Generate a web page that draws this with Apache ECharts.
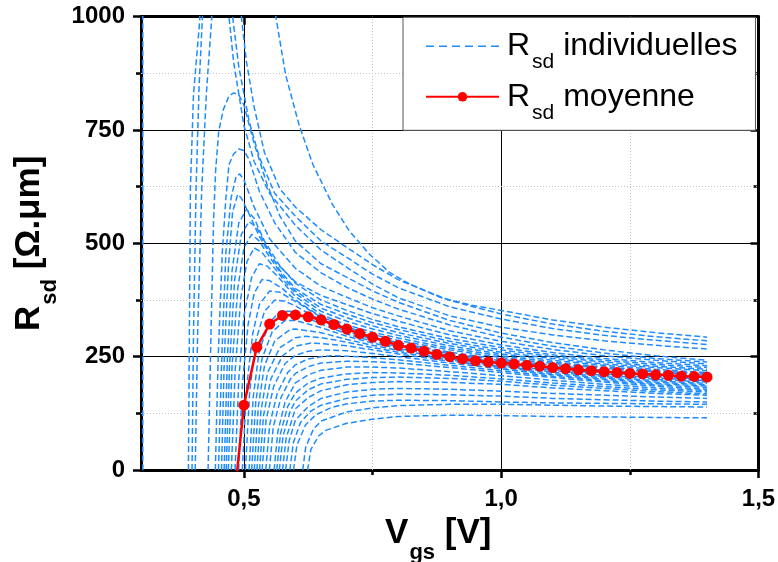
<!DOCTYPE html>
<html><head><meta charset="utf-8">
<script src="https://cdn.jsdelivr.net/npm/echarts@6/dist/echarts.min.js"></script>
<style>html,body{margin:0;padding:0;background:#fff}#c{width:778px;height:562px}</style>
</head><body><div id="c"></div>
<script>
// ---------- axis / tick definitions ----------
const xRange = [0.3, 1.5];
const yRange = [0, 1000];
const xTickLabels = [0.5, 1.0, 1.5];
const xMinorTicks = [0.75, 1.25];
const yTickLabels = [0, 250, 500, 750, 1000];
const yMinorTicks = [125, 375, 625, 875];
const xMajorGrid = [0.5, 1.0];
const xMinorGrid = [0.75, 1.25];
const yMajorGrid = [250, 500, 750];
const yMinorGrid = [125, 375, 625, 875];

// ---------- mean curve (red) ----------
const vgsMean = [0.475, 0.5, 0.525, 0.55, 0.575, 0.6, 0.625, 0.65, 0.675, 0.7, 0.725, 0.75, 0.775, 0.8, 0.825, 0.85, 0.875, 0.9, 0.925, 0.95, 0.975, 1.0, 1.025, 1.05, 1.075, 1.1, 1.125, 1.15, 1.175, 1.2, 1.225, 1.25, 1.275, 1.3, 1.325, 1.35, 1.375, 1.4];
const rsdMean = [-132, 143, 271, 322, 341, 342, 338, 331, 321, 311, 301, 293, 284, 275, 269, 262, 255, 250, 245, 241, 238, 236, 234, 231, 229, 226, 223.5, 221, 219, 217, 215, 213, 212, 210, 209, 207, 206.5, 205];

// ---------- individual curves (blue), [Vgs, Rsd] ----------
const c01 = [[0.3035,-100],[0.3035,1100],[0.36,2500],[0.45,1400],[0.471,1000],[0.48,900],[0.50,760],[0.52,680],[0.55,610],[0.6,540],[0.65,485],[0.7,447],[0.75,410],[0.8,380],[0.9,340],[1.0,315],[1.1,298],[1.2,285],[1.3,275],[1.4,267]];
const c02 = [[0.392,-20],[0.394,300],[0.396,620],[0.402,828],[0.414,990],[0.43,1500],[0.46,1300],[0.478,1000],[0.49,890],[0.51,770],[0.53,690],[0.56,610],[0.6,560],[0.65,505],[0.7,469],[0.75,432],[0.8,402],[0.9,360],[1.0,333],[1.1,312],[1.2,297],[1.3,286],[1.4,277]];
const c03 = [[0.399,-20],[0.402,300],[0.407,620],[0.413,850],[0.419,990],[0.44,1500],[0.48,1300],[0.495,1000],[0.505,900],[0.52,800],[0.54,700],[0.57,620],[0.6,580],[0.65,530],[0.7,491],[0.75,453],[0.8,420],[0.9,374],[1.0,344],[1.1,322],[1.2,306],[1.3,294],[1.4,285]];
const c04 = [[0.405,-20],[0.410,300],[0.418,620],[0.427,830],[0.437,990],[0.46,1500],[0.53,1400],[0.562,1000],[0.581,872],[0.607,762],[0.634,674],[0.672,586],[0.705,527],[0.744,476],[0.783,436],[0.822,410],[0.881,381],[0.94,364],[1.0,352],[1.1,331],[1.2,315],[1.3,303],[1.4,293]];
const c05 = [[0.430,-20],[0.436,300],[0.441,550],[0.445,660],[0.451,747],[0.460,795],[0.471,825],[0.48,832],[0.49,828],[0.50,805],[0.52,720],[0.545,630],[0.57,560],[0.6,505],[0.65,455],[0.7,425],[0.75,395],[0.8,370],[0.9,330],[1.0,302],[1.1,281],[1.2,265],[1.3,252],[1.4,242]];
const c06 = [[0.444,-20],[0.450,250],[0.458,480],[0.465,600],[0.471,674],[0.48,697],[0.49,708],[0.50,705],[0.51,685],[0.53,615],[0.56,545],[0.6,480],[0.65,435],[0.7,403],[0.75,377],[0.8,355],[0.9,320],[1.0,293],[1.1,273],[1.2,258],[1.3,246],[1.4,238]];
const c07 = [[0.450,-20],[0.457,250],[0.465,480],[0.475,600],[0.485,648],[0.492,653],[0.50,640],[0.52,580],[0.55,510],[0.6,445],[0.65,405],[0.7,381],[0.75,358],[0.8,340],[0.9,307],[1.0,284],[1.1,266],[1.2,252],[1.3,242],[1.4,234]];
const c08 = [[0.456,-20],[0.462,250],[0.470,450],[0.478,570],[0.488,608],[0.495,600],[0.51,565],[0.53,515],[0.56,460],[0.6,415],[0.65,385],[0.7,365],[0.75,345],[0.8,328],[0.9,298],[1.0,276],[1.1,259],[1.2,246],[1.3,237],[1.4,230]];
const c09 = [[0.461,-20],[0.468,250],[0.477,440],[0.49,545],[0.505,575],[0.52,555],[0.54,505],[0.57,450],[0.6,412],[0.65,375],[0.7,352],[0.75,332],[0.8,316],[0.9,290],[1.0,270],[1.1,254],[1.2,242],[1.3,233],[1.4,226]];
const c10 = [[0.465,-20],[0.472,230],[0.482,420],[0.495,520],[0.51,548],[0.525,535],[0.545,490],[0.57,440],[0.6,400],[0.65,365],[0.7,344],[0.75,325],[0.8,310],[0.9,284],[1.0,265],[1.1,250],[1.2,238],[1.3,229],[1.4,222]];
const c11 = [[0.469,-20],[0.477,230],[0.488,400],[0.50,490],[0.515,520],[0.53,505],[0.55,470],[0.575,428],[0.6,395],[0.65,357],[0.7,336],[0.75,318],[0.8,303],[0.9,279],[1.0,260],[1.1,246],[1.2,234],[1.3,226],[1.4,219]];
const c12 = [[0.475,-20],[0.483,220],[0.494,380],[0.506,460],[0.52,490],[0.535,480],[0.555,452],[0.58,415],[0.6,390],[0.65,350],[0.7,328],[0.75,311],[0.8,297],[0.9,274],[1.0,256],[1.1,242],[1.2,231],[1.3,222],[1.4,215]];
const c13 = [[0.482,-20],[0.490,200],[0.50,340],[0.515,425],[0.53,455],[0.545,450],[0.565,428],[0.6,383],[0.65,343],[0.7,320],[0.75,304],[0.8,291],[0.9,269],[1.0,252],[1.1,238],[1.2,227],[1.3,219],[1.4,212]];
const c14 = [[0.489,-20],[0.497,190],[0.508,320],[0.52,390],[0.535,420],[0.55,418],[0.575,400],[0.6,375],[0.65,338],[0.7,315],[0.75,299],[0.8,286],[0.9,265],[1.0,248],[1.1,235],[1.2,224],[1.3,216],[1.4,209]];
const c15 = [[0.496,-20],[0.505,180],[0.517,300],[0.53,365],[0.55,395],[0.57,392],[0.6,372],[0.65,337],[0.7,311],[0.75,294],[0.8,281],[0.9,260],[1.0,244],[1.1,231],[1.2,220],[1.3,212],[1.4,206]];
const c16 = [[0.502,-20],[0.511,170],[0.523,285],[0.54,350],[0.56,375],[0.58,372],[0.6,362],[0.65,330],[0.7,305],[0.75,289],[0.8,277],[0.9,257],[1.0,241],[1.1,228],[1.2,218],[1.3,209],[1.4,203]];
const c17 = [[0.509,-20],[0.518,160],[0.53,265],[0.55,325],[0.57,350],[0.59,350],[0.6,347],[0.65,322],[0.7,300],[0.75,284],[0.8,272],[0.9,253],[1.0,238],[1.1,225],[1.2,215],[1.3,206],[1.4,200]];
const c18 = [[0.514,-20],[0.523,150],[0.535,245],[0.555,305],[0.58,330],[0.6,330],[0.65,314],[0.7,295],[0.75,280],[0.8,268],[0.9,250],[1.0,235],[1.1,222],[1.2,212],[1.3,203],[1.4,197]];
const c19 = [[0.519,-20],[0.528,140],[0.54,230],[0.56,285],[0.59,310],[0.6,311],[0.65,303],[0.7,288],[0.75,275],[0.8,264],[0.9,246],[1.0,232],[1.1,219],[1.2,209],[1.3,200],[1.4,194]];
const c20 = [[0.524,-20],[0.533,130],[0.546,215],[0.57,270],[0.6,292],[0.62,295],[0.65,292],[0.7,282],[0.75,270],[0.8,260],[0.9,243],[1.0,229],[1.1,216],[1.2,206],[1.3,197],[1.4,191]];
const c21 = [[0.529,-20],[0.538,120],[0.552,200],[0.575,252],[0.6,273],[0.63,280],[0.65,279],[0.7,274],[0.75,265],[0.8,256],[0.9,240],[1.0,226],[1.1,213],[1.2,203],[1.3,194],[1.4,188]];
const c22 = [[0.534,-20],[0.543,110],[0.558,185],[0.58,235],[0.6,253],[0.625,262],[0.65,265],[0.7,263],[0.75,257],[0.8,250],[0.9,236],[1.0,223],[1.1,210],[1.2,200],[1.3,191],[1.4,185]];
const c23 = [[0.541,-20],[0.55,100],[0.565,170],[0.585,215],[0.6,232],[0.625,245],[0.65,250],[0.67,252],[0.7,251],[0.75,248],[0.8,243],[0.9,231],[1.0,219],[1.1,207],[1.2,197],[1.3,188],[1.4,182]];
const c24 = [[0.548,-20],[0.557,95],[0.572,160],[0.59,200],[0.6,213],[0.625,228],[0.65,236],[0.7,240],[0.75,239],[0.8,236],[0.9,226],[1.0,215],[1.1,204],[1.2,194],[1.3,185],[1.4,178]];
const c25 = [[0.557,-20],[0.566,85],[0.58,150],[0.6,192],[0.625,210],[0.65,220],[0.7,227],[0.75,227],[0.8,225],[0.9,217],[1.0,208],[1.1,198],[1.2,189],[1.3,181],[1.4,175]];
const c26 = [[0.562,-20],[0.571,80],[0.585,140],[0.6,170],[0.625,192],[0.65,203],[0.7,212],[0.75,215],[0.8,214],[0.9,209],[1.0,201],[1.1,192],[1.2,184],[1.3,177],[1.4,172]];
const c27 = [[0.567,-20],[0.576,75],[0.59,130],[0.6,152],[0.625,177],[0.65,190],[0.7,200],[0.75,204],[0.8,205],[0.9,202],[1.0,196],[1.1,187],[1.2,180],[1.3,173],[1.4,168]];
const c28 = [[0.573,-20],[0.582,70],[0.6,135],[0.625,160],[0.65,175],[0.7,188],[0.75,193],[0.8,195],[0.9,193],[1.0,189],[1.1,181],[1.2,175],[1.3,169],[1.4,165]];
const c29 = [[0.579,-20],[0.588,65],[0.6,110],[0.625,140],[0.65,158],[0.7,172],[0.75,178],[0.8,180],[0.9,178],[1.0,174],[1.1,169],[1.2,165],[1.3,161],[1.4,158]];
const c30 = [[0.587,-20],[0.596,60],[0.61,105],[0.63,130],[0.65,143],[0.7,158],[0.75,165],[0.8,167],[0.9,166],[1.0,163],[1.1,158],[1.2,155],[1.3,152],[1.4,150]];
const c31 = [[0.594,-20],[0.603,55],[0.62,100],[0.64,122],[0.67,138],[0.7,146],[0.75,152],[0.8,154],[0.9,153],[1.0,150],[1.1,148],[1.2,147],[1.3,146],[1.4,145]];
const c32 = [[0.612,-20],[0.62,50],[0.635,90],[0.65,108],[0.7,128],[0.75,137],[0.8,142],[0.9,145],[1.0,145],[1.1,143],[1.2,141],[1.3,140],[1.4,139]];
const c33 = [[0.621,-20],[0.63,45],[0.645,75],[0.66,88],[0.7,103],[0.75,112],[0.8,118],[0.9,121],[1.0,120],[1.1,118],[1.2,117],[1.3,116],[1.4,115]];
const individualCurves = [c01,c02,c03,c04,c05,c06,c07,c08,c09,c10,c11,c12,c13,c14,c15,c16,c17,c18,c19,c20,c21,c22,c23,c24,c25,c26,c27,c28,c29,c30,c31,c32,c33];

// ---------- texts ----------
const nameInd = 'Rsd individuelles';
const nameMoy = 'Rsd moyenne';
const legendRich = {
  'Rsd individuelles': '{r|R}{s|sd}{m| individuelles}',
  'Rsd moyenne': '{r|R}{s|sd}{m| moyenne}'
};
const xTitle = '{m|V}{s|gs}{m| [V]}';
const yTitle = '{m|R}{s|sd}{m| [Ω.μm]}';

// ---------- styles ----------
const FONT = '"Liberation Sans", Arial, Helvetica, sans-serif';
const BLUE = '#1E8CFF';
const RED = '#FF0000';
const gridPos = {left: 141, right: 19.5, top: 16.7, bottom: 92, outerBoundsMode: 'none'};
const axisLine = {show: true, onZero: false, lineStyle: {color: '#000', width: 3}};
const tickStyle = {color: '#000', width: 2.5};
const titleRich = {
  m: {fontSize: 35, fontWeight: 'bold', fontFamily: FONT, color: '#000', lineHeight: 42},
  s: {fontSize: 22, fontWeight: 'bold', fontFamily: FONT, color: '#000', lineHeight: 42, height: 2, verticalAlign: 'bottom', padding: [0, 0, 0, 1]}
};

const chart = echarts.init(document.getElementById('c'), null, {renderer: 'canvas'});

const series = individualCurves.map(c => ({
  type: 'line', name: nameInd, data: c, xAxisIndex: 0, yAxisIndex: 0,
  symbol: 'none', showSymbol: false, clip: true, silent: true, z: 2,
  lineStyle: {color: BLUE, width: 1.5, type: [6, 3]}, itemStyle: {color: BLUE},
  emphasis: {disabled: true}
}));

const gridLineData = [].concat(
  xMajorGrid.map(v => ({xAxis: v, lineStyle: {color: '#000', width: 1, type: 'solid'}})),
  xMinorGrid.map(v => ({xAxis: v, lineStyle: {color: '#c4c4c4', width: 1, type: [1, 2]}})),
  yMajorGrid.map(v => ({yAxis: v, lineStyle: {color: '#000', width: 1, type: 'solid'}})),
  yMinorGrid.map(v => ({yAxis: v, lineStyle: {color: '#c4c4c4', width: 1, type: [1, 2]}}))
);

series.push({
  type: 'line', name: nameMoy, data: vgsMean.map((x, i) => [x, rsdMean[i]]),
  xAxisIndex: 0, yAxisIndex: 0, clip: true, z: 3,
  symbol: 'circle', symbolSize: 11, showSymbol: true,
  lineStyle: {color: RED, width: 2.5}, itemStyle: {color: RED},
  emphasis: {disabled: true},
  markLine: {
    z: 1, silent: true, symbol: ['none', 'none'], label: {show: false},
    animation: false, emphasis: {disabled: true}, data: gridLineData
  }
});

const option = {
  animation: false,
  backgroundColor: '#fff',
  textStyle: {fontFamily: FONT},
  grid: [Object.assign({}, gridPos), Object.assign({}, gridPos)],
  legend: {
    show: true, orient: 'vertical', left: 403, top: 17.3,
    padding: [13, 18, 7, 22], itemGap: 8, itemWidth: 73, itemHeight: 12,
    borderColor: '#555', borderWidth: 1, backgroundColor: '#fff',
    selectedMode: false,
    data: [
      {name: nameInd, itemStyle: {color: 'rgba(0,0,0,0)', borderWidth: 0}, lineStyle: {type: [8, 5], width: 1.5}},
      {name: nameMoy}
    ],
    formatter: n => legendRich[n],
    textStyle: {
      color: '#000',
      rich: {
        r: {fontSize: 32, fontFamily: FONT, color: '#000', lineHeight: 34, padding: [0, 0, 0, 3]},
        m: {fontSize: 32, fontFamily: FONT, color: '#000', lineHeight: 34},
        s: {fontSize: 21, fontFamily: FONT, color: '#000', lineHeight: 34, height: 2, verticalAlign: 'bottom', padding: [0, 0, 0, 2]}
      }
    }
  },
  xAxis: [
    {gridIndex: 0, type: 'value', position: 'bottom', min: xRange[0], max: xRange[1],
     axisLine: axisLine, splitLine: {show: false},
     axisTick: {show: true, inside: false, length: 8, lineStyle: tickStyle, customValues: xTickLabels},
     axisLabel: {show: true, customValues: xTickLabels, margin: 17, fontSize: 24, fontWeight: 'bold', color: '#000', fontFamily: FONT,
                 formatter: v => Number(v).toFixed(1).replace('.', ',')},
     name: xTitle, nameLocation: 'middle', nameGap: 42,
     nameTextStyle: {rich: titleRich, padding: [0, 23, 0, 0]}},
    {gridIndex: 0, type: 'value', position: 'top', min: xRange[0], max: xRange[1],
     axisLine: axisLine, splitLine: {show: false}, axisLabel: {show: false},
     axisTick: {show: true, inside: true, length: 8, lineStyle: tickStyle, customValues: xTickLabels}},
    {gridIndex: 1, type: 'value', position: 'bottom', min: xRange[0], max: xRange[1],
     axisLine: {show: false}, splitLine: {show: false}, axisLabel: {show: false},
     axisTick: {show: true, inside: false, length: 5, lineStyle: tickStyle, customValues: xMinorTicks}},
    {gridIndex: 1, type: 'value', position: 'top', min: xRange[0], max: xRange[1],
     axisLine: {show: false}, splitLine: {show: false}, axisLabel: {show: false},
     axisTick: {show: true, inside: true, length: 5, lineStyle: tickStyle, customValues: xMinorTicks}}
  ],
  yAxis: [
    {gridIndex: 0, type: 'value', position: 'left', min: yRange[0], max: yRange[1],
     axisLine: axisLine, splitLine: {show: false},
     axisTick: {show: true, inside: false, length: 8, lineStyle: tickStyle, customValues: yTickLabels},
     axisLabel: {show: true, customValues: yTickLabels, margin: 16, fontSize: 24, fontWeight: 'bold', color: '#000', fontFamily: FONT,
                 formatter: v => String(Math.round(v))},
     name: yTitle, nameLocation: 'middle', nameGap: 90, nameRotate: 90,
     nameTextStyle: {rich: titleRich}},
    {gridIndex: 0, type: 'value', position: 'right', min: yRange[0], max: yRange[1],
     axisLine: axisLine, splitLine: {show: false}, axisLabel: {show: false},
     axisTick: {show: true, inside: true, length: 8, lineStyle: tickStyle, customValues: yTickLabels}},
    {gridIndex: 1, type: 'value', position: 'left', min: yRange[0], max: yRange[1],
     axisLine: {show: false}, splitLine: {show: false}, axisLabel: {show: false},
     axisTick: {show: true, inside: false, length: 5, lineStyle: tickStyle, customValues: yMinorTicks}},
    {gridIndex: 1, type: 'value', position: 'right', min: yRange[0], max: yRange[1],
     axisLine: {show: false}, splitLine: {show: false}, axisLabel: {show: false},
     axisTick: {show: true, inside: true, length: 5, lineStyle: tickStyle, customValues: yMinorTicks}}
  ],
  series: series
};
chart.setOption(option);
</script></body></html>
